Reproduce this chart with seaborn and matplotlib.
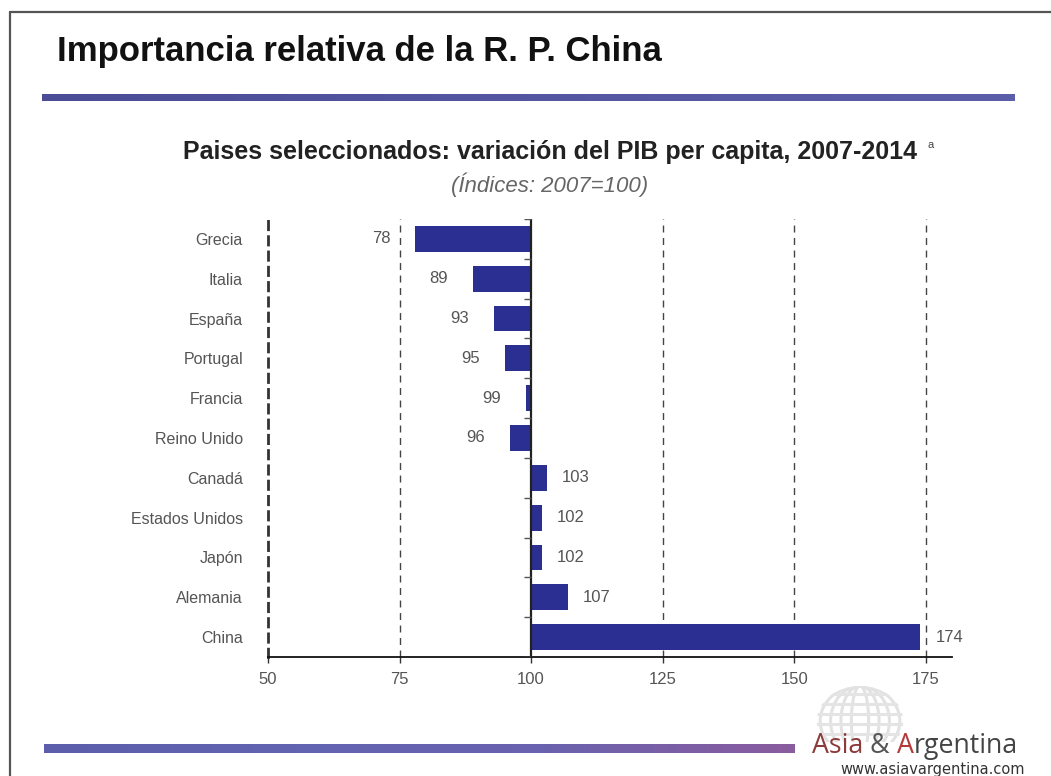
import numpy as np
import pandas as pd
import matplotlib
matplotlib.use("Agg")
import matplotlib.pyplot as plt
import seaborn as sns
from matplotlib.lines import Line2D
from matplotlib.patches import Ellipse, Circle

# Data: GDP per capita index (2007 = 100), 2014
paises = ["Grecia", "Italia", "España", "Portugal", "Francia", "Reino Unido",
          "Canadá", "Estados Unidos", "Japón", "Alemania", "China"]
indices = [78, 89, 93, 95, 99, 96, 103, 102, 102, 107, 174]
x_ticks = [50, 75, 100, 125, 150, 175]
base = 100

sns.set_theme(style="white")
plt.rcParams['font.family'] = ['Liberation Sans', 'DejaVu Sans']

W, H = 1051, 776
fig = plt.figure(figsize=(W / 100, H / 100), dpi=100)
fig.patch.set_facecolor("white")


def fx(px):
    return px / W


def fy(py):
    return 1 - py / H


# ---- bar chart -------------------------------------------------------------
ax = fig.add_axes([fx(268), fy(657), fx(952) - fx(268), fy(219) - fy(657)])
df = pd.DataFrame({"pais": paises, "indice": indices})
df["variacion"] = df["indice"] - base

sns.barplot(data=df, x="variacion", y="pais", orient="y", left=base,
            color="#2c2f92", saturation=1, width=0.65, edgecolor="none",
            ax=ax, zorder=2)

ax.set_xlim(50, 180)
ax.set_ylim(len(paises) - 0.5, -0.5)
ax.set_xticks(x_ticks)
ax.set_xticklabels([str(t) for t in x_ticks])
ax.set_xlabel("")
ax.set_ylabel("")

# dashed reference lines
for t in x_ticks:
    if t in (50, 100):
        continue
    ax.axvline(t, color="#444444", lw=1.0, ls=(0, (5, 4)), zorder=1)
# baseline at 100
ax.axvline(base, color="#222222", lw=1.6, zorder=3)
# small separators along the baseline
sep = np.arange(-0.5, len(paises) - 0.4, 1.0)
ax.hlines(sep, base - 1.4, base, color="#555555", lw=1.0, zorder=3)

for s in ("top", "right"):
    ax.spines[s].set_visible(False)
ax.spines["left"].set_linestyle((0, (3, 2.5)))
ax.spines["left"].set_linewidth(2.0)
ax.spines["left"].set_color("#333333")
ax.spines["bottom"].set_color("#111111")
ax.spines["bottom"].set_linewidth(1.3)

ax.tick_params(axis="y", length=0, pad=18, labelsize=11.5, labelcolor="#555555")
ax.tick_params(axis="x", length=4, width=1, color="#333333", pad=7,
               labelsize=12, labelcolor="#555555", bottom=True)

# value labels
for i, v in enumerate(indices):
    if v < base:
        ax.annotate(str(v), xy=(v, i), xytext=(-18, 0), textcoords="offset points",
                    ha="right", va="center", fontsize=12, color="#555555")
    else:
        ax.annotate(str(v), xy=(v, i), xytext=(11, 0), textcoords="offset points",
                    ha="left", va="center", fontsize=12, color="#555555")

# ---- page decoration -------------------------------------------------------
fig.add_artist(Line2D([fx(10), fx(10)], [fy(12), 0], transform=fig.transFigure,
                      color="#555555", lw=1.6))
fig.add_artist(Line2D([fx(10), 1], [fy(12), fy(12)], transform=fig.transFigure,
                      color="#555555", lw=1.6))


def band(x0, x1, y0, y1, colors):
    bax = fig.add_axes([fx(x0), fy(y1), fx(x1) - fx(x0), fy(y0) - fy(y1)])
    cmap = matplotlib.colors.LinearSegmentedColormap.from_list("band", colors)
    bax.imshow(np.linspace(0, 1, 256)[None, :], aspect="auto", cmap=cmap)
    bax.set_axis_off()


band(42, 1015, 94, 101, ["#4a4c96", "#5556a2", "#5c5eaa"])
band(44, 795, 744, 753, ["#5c5eac", "#6264b2", "#6a62ae", "#8a5c9e"])

# titles
fig.text(fx(57), fy(52), "Importancia relativa de la R. P. China",
         fontsize=25, fontweight="bold", color="#111111",
         ha="left", va="center")
fig.text(fx(550), fy(152), "Paises seleccionados: variación del PIB per capita, 2007-2014",
         fontsize=18, fontweight="bold", color="#222222",
         ha="center", va="center")
fig.text(fx(927), fy(145), "a", fontsize=8, color="#444444",
         ha="left", va="center")
fig.text(fx(550), fy(185), "(Índices: 2007=100)", fontsize=16, style="italic",
         color="#666666", ha="center", va="center")

# logo globe (faint)
gax = fig.add_axes([fx(815), fy(742), fx(905) - fx(815), fy(686) - fy(742)])
gax.set_xlim(-1.3, 1.3)
gax.set_ylim(-1, 1)
gax.set_axis_off()
clip = Circle((0, -0.25), 1.25, transform=gax.transData)
for k in np.linspace(0.25, 1.15, 4):
    e = Ellipse((0, -0.25), 2 * k, 2.5, fill=False, ec="#e2e2e2", lw=2.2)
    gax.add_patch(e)
    e.set_clip_path(clip)
for yy in np.linspace(-0.7, 0.7, 5):
    ln, = gax.plot([-1.3, 1.3], [yy, yy], color="#e4e4e4", lw=2.2)
    ln.set_clip_path(clip)

# logo text
renderer = fig.canvas.get_renderer()
x_cur = fx(812)
for txt, col in [("Asia", "#8c3b3b"), (" & ", "#555555"), ("A", "#b23a3a"), ("rgentina", "#444444")]:
    t = fig.text(x_cur, fy(753), txt, fontsize=19.3, color=col, family=["Open Sans", "DejaVu Sans"],
                 ha="left", va="baseline")
    bb = t.get_window_extent(renderer=renderer)
    x_cur = bb.x1 / W
fig.text(fx(1025), fy(762), "www.asiavargentina.com", fontsize=10.5, color="#333333",
         family=["DejaVu Sans"], ha="right", va="top")

fig.savefig("out.png", dpi=100, facecolor="white")
